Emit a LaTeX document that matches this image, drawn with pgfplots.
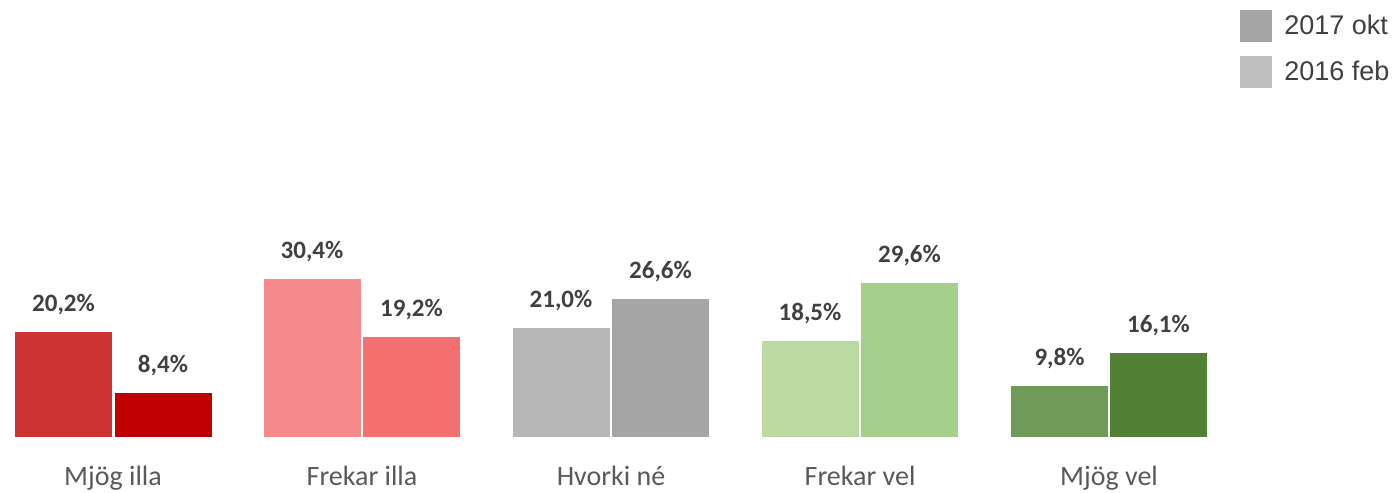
\documentclass[border=0pt]{standalone}
\usepackage{pgfplots}
\pgfplotsset{compat=1.18}
\usepackage{fontspec}
\setmainfont{Carlito}
\newfontfamily\arial{Liberation Sans}
\definecolor{c1a}{HTML}{CD3333}
\definecolor{c1b}{HTML}{C00000}
\definecolor{c2a}{HTML}{F68A8A}
\definecolor{c2b}{HTML}{F47070}
\definecolor{c3a}{HTML}{B7B7B7}
\definecolor{c3b}{HTML}{A5A5A5}
\definecolor{c4a}{HTML}{BADAA2}
\definecolor{c4b}{HTML}{A7CF8C}
\definecolor{c5a}{HTML}{709A58}
\definecolor{c5b}{HTML}{528034}
\definecolor{lbl}{HTML}{404040}
\definecolor{cat}{HTML}{595959}
\definecolor{legA}{HTML}{A6A6A6}
\definecolor{legB}{HTML}{BFBFBF}
\begin{document}
\begin{tikzpicture}
\begin{axis}[
  scale only axis,
  width=700pt, height=218.5pt,
  xmin=0, xmax=1400, ymin=0, ymax=84.04,
  axis lines=none, clip=false,
  /pgf/number format/assume math mode=true,
  ybar, bar width=48.5pt, bar shift=0pt,
  every axis plot/.append style={draw=none},
  nodes near coords={\pgfmathprintnumber[fixed,fixed zerofill,precision=1,use comma,assume math mode=true]{\pgfplotspointmeta}\%},
  every node near coord/.append style={font=\bfseries\fontsize{12.5}{14}\selectfont, text=lbl, yshift=5pt},
  legend image code/.code={\fill[#1] (0pt,-8pt) rectangle (16pt,8pt);},
  legend style={at={(axis cs:1240,82.1)}, anchor=north west, draw=none, fill=none,
    inner sep=0pt, row sep=7pt, column sep=5pt,
    font=\arial\fontsize{13.5}{15}\selectfont, text=lbl,
    nodes={inner sep=1pt}},
  legend cell align=left,
]
\addlegendimage{fill=legA}\addlegendentry{2017 okt}
\addlegendimage{fill=legB}\addlegendentry{2016 feb}
\addplot[fill=c1a] coordinates {(63.5,20.2)};
\addplot[fill=c1b] coordinates {(163,8.4)};
\addplot[fill=c2a] coordinates {(312,30.4)};
\addplot[fill=c2b] coordinates {(411.5,19.2)};
\addplot[fill=c3a] coordinates {(561,21.0)};
\addplot[fill=c3b] coordinates {(660.5,26.6)};
\addplot[fill=c4a] coordinates {(810,18.5)};
\addplot[fill=c4b] coordinates {(909.5,29.6)};
\addplot[fill=c5a] coordinates {(1059.5,9.8)};
\addplot[fill=c5b] coordinates {(1158.5,16.1)};
\foreach \x/\t in {113/Mjög illa, 362/Frekar illa, 611/Hvorki né, 860/Frekar vel, 1109/Mjög vel}{
  \edef\temp{\noexpand\node[anchor=base, text=cat, font=\noexpand\fontsize{14}{16}\noexpand\selectfont] at (axis cs:\x,-9.3) {\t};}
  \temp
}
\end{axis}
\pgfresetboundingbox
\useasboundingbox (0,-27.5pt) rectangle (700pt,218.5pt);
\end{tikzpicture}
\end{document}
